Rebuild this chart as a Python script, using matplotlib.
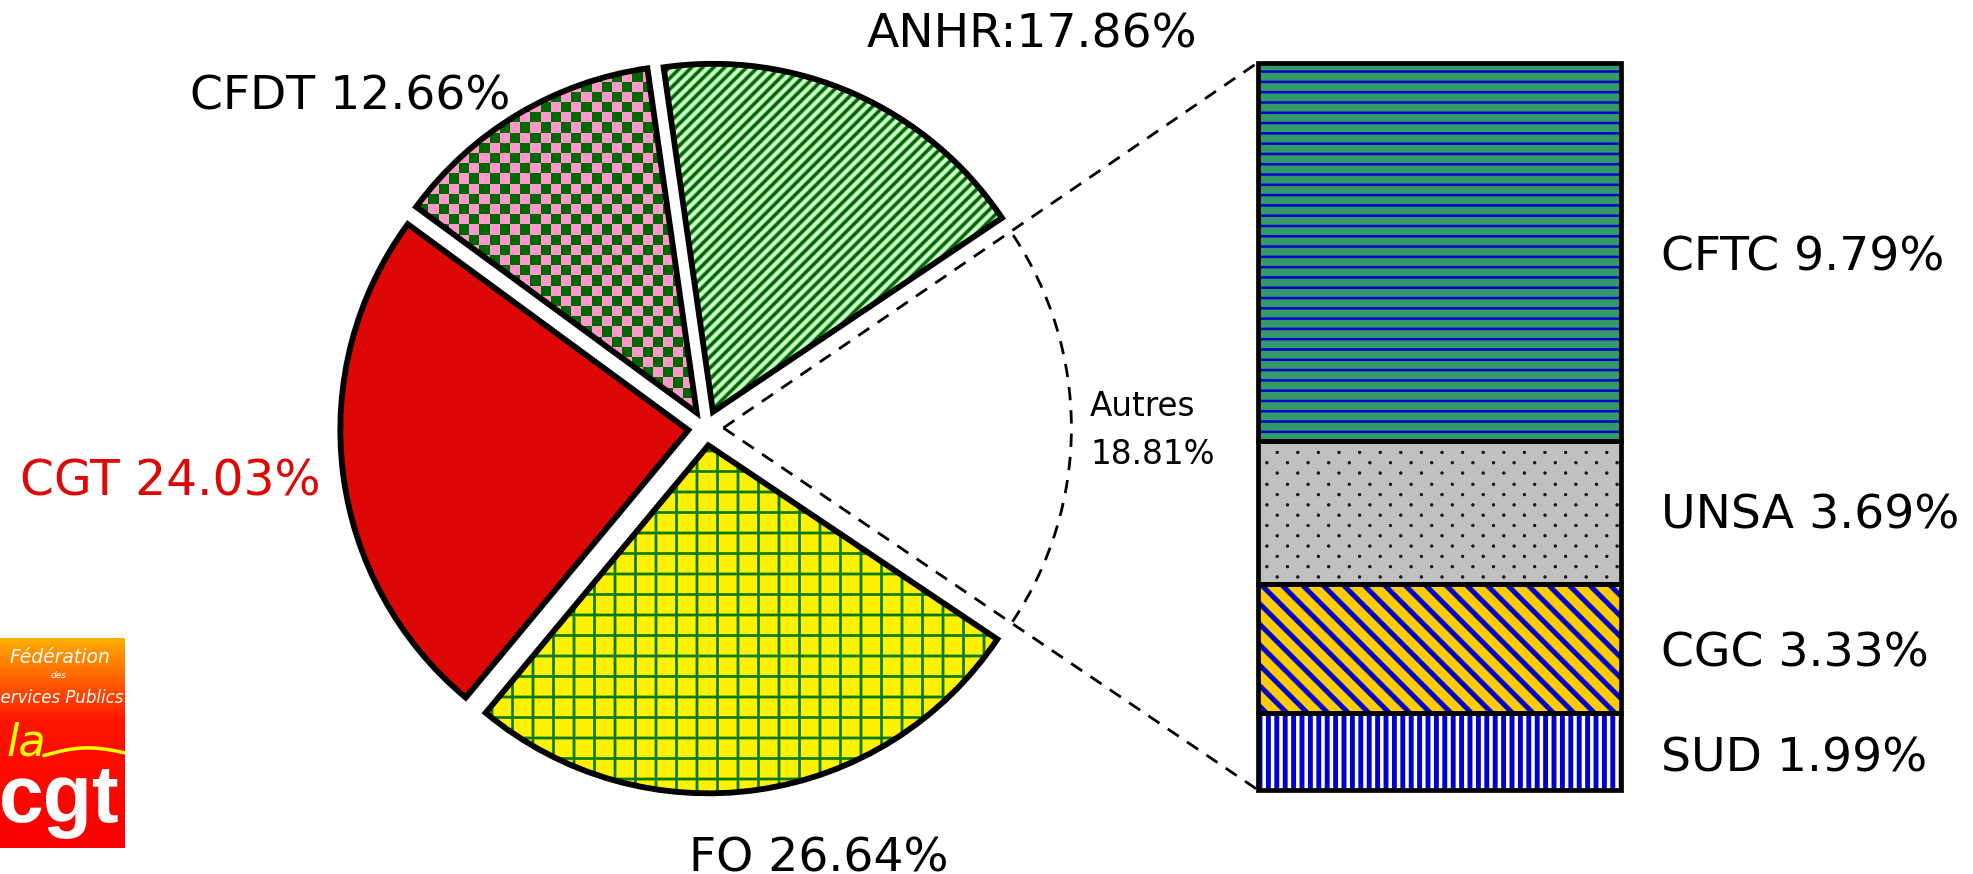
import numpy as np
import matplotlib
matplotlib.use("Agg")
import matplotlib.pyplot as plt
import matplotlib.patches as mpatches
from matplotlib.colors import to_rgb

# ---------------- data ----------------
pie_labels = ["Autres", "ANHR", "CFDT", "CGT", "FO"]
pie_values = [18.81, 17.86, 12.66, 24.03, 26.64]
bar_labels = ["SUD", "CGC", "UNSA", "CFTC"]
bar_values = [1.99, 3.33, 3.69, 9.79]

# ---------------- figure ----------------
W, H, DPI = 1973, 874, 100
fig = plt.figure(figsize=(W / DPI, H / DPI), dpi=DPI)
fig.patch.set_facecolor("white")
ax = fig.add_axes([0, 0, 1, 1])

CX, CY, R, EXPLODE = 705.8, H - 427.9, 348.0, 17.6
wedges, _ = ax.pie(pie_values, startangle=-33.86, counterclock=True,
                   center=(CX, CY), radius=R, frame=True)
ax.set_xlim(0, W)
ax.set_ylim(0, H)
ax.set_aspect("auto")
ax.axis("off")

for w in wedges:
    tm = np.deg2rad(0.5 * (w.theta1 + w.theta2))
    w.set_center((CX + EXPLODE * np.cos(tm), CY + EXPLODE * np.sin(tm)))
    w.set_facecolor("none")
    w.set_edgecolor("black")
    w.set_linewidth(4.2)
    w.set_joinstyle("miter")
    w.set_zorder(5)


def band(u, period, width, soft=1.0):
    f = np.mod(u, period)
    d = np.minimum(f, period - f)
    return np.clip((width / 2 - d) / soft + 0.5, 0, 1)


def blend(base, ink, wgt):
    b = np.array(to_rgb(base))
    i = np.array(to_rgb(ink))
    return b * (1 - wgt[..., None]) + i * wgt[..., None]


def tex(name, x, y):
    if name == "ANHR":
        return blend("#CCFFCC", "#006600", band((x + y) / np.sqrt(2), 11 / np.sqrt(2), 3.6, 1.6))
    if name == "CFDT":
        wgt = np.mod(np.floor(x / 10.2) + np.floor(y / 10.2), 2)
        return blend("#FF99CC", "#006600", wgt)
    if name == "CGT":
        return blend("#DD0806", "#DD0806", np.zeros_like(x))
    if name == "FO":
        wgt = np.maximum(band(x, 20.5, 2.8, 1.1), band(y, 20.5, 2.8, 1.1))
        return blend("#FFF200", "#0A7A0A", wgt)
    if name == "CFTC":
        return blend("#339966", "#0000CC", band(y, 10.3, 2.5, 1.0))
    if name == "UNSA":
        r = np.round(y / 10.3)
        dy = y - r * 10.3
        shift = np.mod(r, 2) * 10.3
        c = np.round((x - shift) / 20.6)
        dx = x - shift - c * 20.6
        dist = np.sqrt(dx ** 2 + dy ** 2)
        wgt = np.clip((1.7 - dist) / 0.8 + 0.5, 0, 1)
        return blend("#C0C0C0", "#1A1A1A", wgt)
    if name == "CGC":
        return blend("#FFCC00", "#0000CC", band((x - y) / np.sqrt(2), 20.5 / np.sqrt(2), 5.0, 1.3))
    if name == "SUD":
        return blend("#FFFFFF", "#0000CC", band(x, 8.4, 4.9, 1.0))
    return None


# pie textures (pixel region)
X0, X1, Y0, Y1 = 300, 1120, 40, 830
yy, xx = np.mgrid[Y0:Y1, X0:X1].astype(float) + 0.5
for name, w in zip(pie_labels, wedges):
    if name == "Autres":
        continue
    img = ax.imshow(tex(name, xx, yy), extent=(X0, X1, H - Y1, H - Y0), origin="upper",
                    interpolation="nearest", aspect="auto", zorder=2)
    img.set_clip_path(w)

# "Autres" : dashed arc only
aw = wedges[0]
aw.set_visible(False)
dash = (0, (4.8, 3.6))
DLW = 2.0
ax.add_patch(mpatches.Arc(aw.center, 2 * aw.r, 2 * aw.r, theta1=aw.theta1, theta2=aw.theta2,
                          linestyle=dash, linewidth=DLW, color="black", zorder=4))

# ---------------- stacked bar ----------------
BX0, BX1, BY0, BY1 = 1258.0, 1621.0, 62.5, 790.0
ax_b = fig.add_axes([BX0 / W, (H - BY1) / H, (BX1 - BX0) / W, (BY1 - BY0) / H])
total = sum(bar_values)
bottoms = np.concatenate([[0], np.cumsum(bar_values)[:-1]])
bars = ax_b.bar(0, bar_values, bottom=bottoms, width=1.0, facecolor="none",
                edgecolor="black", linewidth=3.4, zorder=5, clip_on=False)
ax_b.set_xlim(-0.5, 0.5)
ax_b.set_ylim(0, total)
ax_b.axis("off")
ncols, nrows = int(BX1 - BX0), int(BY1 - BY0)
byy, bxx = np.mgrid[0:nrows, 0:ncols].astype(float) + 0.5
bxx = bxx * (BX1 - BX0) / ncols + BX0
byy = byy * (BY1 - BY0) / nrows + BY0
for name, b in zip(bar_labels, bars):
    img = ax_b.imshow(tex(name, bxx, byy), extent=(-0.5, 0.5, 0, total), origin="upper",
                      interpolation="nearest", aspect="auto", zorder=2)
    img.set_clip_path(b)

# connection lines
to_ax = lambda p: ax.transData.inverted().transform(ax_b.transData.transform(p))
top_left = to_ax((bars[-1].get_x(), bars[-1].get_y() + bars[-1].get_height()))
bot_left = to_ax((bars[0].get_x(), bars[0].get_y()))
ac = aw.center
for corner in (top_left, bot_left):
    ax.plot([ac[0], corner[0]], [ac[1], corner[1]], linestyle=dash, linewidth=DLW,
            color="black", zorder=4)

# ---------------- labels ----------------
FS = 34
ax.text(1032, H - 35, "ANHR:17.86%", fontsize=FS, ha="center", va="center", color="black")
ax.text(350, H - 97, "CFDT 12.66%", fontsize=FS, ha="center", va="center", color="black")
ax.text(170, H - 482, "CGT 24.03%", fontsize=35, ha="center", va="center", color="#DD0806")
ax.text(819, 2, "FO 26.64%", fontsize=FS, ha="center", va="baseline", color="black")
ax.text(1090, H - 407, "Autres", fontsize=23.5, ha="left", va="center", color="black")
ax.text(1090, H - 455, "18.81%", fontsize=23.5, ha="left", va="center", color="black")

ax.text(1661, H - 258, "CFTC 9.79%", fontsize=FS, ha="left", va="center")
ax.text(1661, H - 516, "UNSA 3.69%", fontsize=FS, ha="left", va="center")
ax.text(1661, H - 654, "CGC 3.33%", fontsize=FS, ha="left", va="center")
ax.text(1661, H - 759, "SUD 1.99%", fontsize=FS, ha="left", va="center")

# ---------------- logo ----------------
LX0, LX1, LY0, LY1 = 0, 125, 638, 848
axl = fig.add_axes([LX0 / W, (H - LY1) / H, (LX1 - LX0) / W, (LY1 - LY0) / H])
t = np.linspace(0, 1, 210)[:, None]
top_c = np.array(to_rgb("#FFB000"))
mid_c = np.array(to_rgb("#FF1400"))
bot_c = np.array(to_rgb("#F80000"))
g1 = np.clip(t / 0.4, 0, 1)
g2 = np.clip((t - 0.4) / 0.6, 0, 1)
col = np.where(t < 0.4, top_c * (1 - g1) + mid_c * g1, mid_c * (1 - g2) + bot_c * g2)
grad = np.repeat(col[:, None, :], 125, axis=1).reshape(210, 125, 3)
axl.imshow(grad, extent=(0, 1, 0, 1), aspect="auto", origin="upper")
axl.set_xlim(0, 1)
axl.set_ylim(0, 1)
axl.axis("off")
axl.text(0.48, 0.905, "Fédération", color="white", style="italic", fontsize=13.5,
         ha="center", va="center", clip_on=True)
axl.text(0.47, 0.82, "des", color="white", style="italic", fontsize=6.5,
         ha="center", va="center", clip_on=True)
axl.text(0.99, 0.714, "Services Publics", color="white", style="italic", fontsize=12,
         ha="right", va="center", clip_on=True)
axl.text(0.05, 0.44, "la", color="#FFFF00", style="italic", fontsize=32,
         ha="left", va="baseline", clip_on=True)
sx = np.linspace(0.35, 1.0, 30)
axl.plot(sx, 0.44 + 0.03 * np.sin((sx - 0.35) / 0.65 * np.pi) + 0.02 * (sx - 0.35),
         color="#FFFF00", linewidth=2.5, solid_capstyle="round")
axl.text(0.47, 0.124, "cgt", color="white", weight="bold", fontsize=58,
         family="Liberation Sans", ha="center", va="baseline", clip_on=True)

fig.savefig("out.png", dpi=DPI, facecolor="white")
